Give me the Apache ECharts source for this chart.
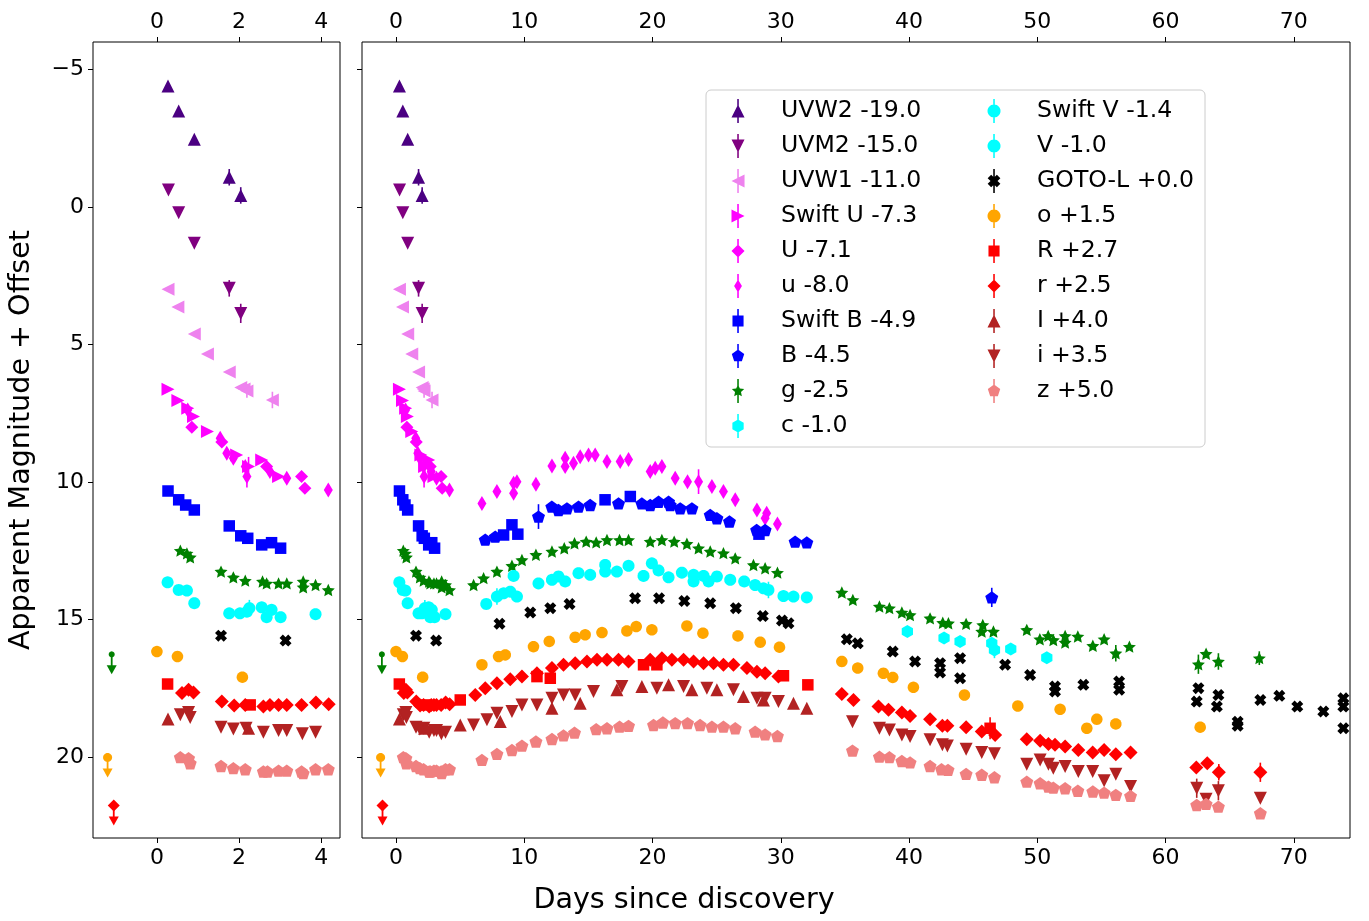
<!DOCTYPE html>
<html><head><meta charset="utf-8">
<script src="https://cdn.jsdelivr.net/npm/echarts@6/dist/echarts.min.js"></script>
<style>html,body{margin:0;padding:0;background:#fff}#c{width:1369px;height:921px}</style>
</head><body><div id="c"></div><script>
// ---------- DATA: [days, magnitude + offset, (error)] ----------
const uvw2 = [[0.27,-4.4],[0.53,-3.49],[0.91,-2.46],[1.76,-1.08,0.3],[2.04,-0.42,0.3]];
const uvm2 = [[0.28,-0.62],[0.53,0.21],[0.91,1.32],[1.76,2.96,0.3],[2.04,3.87,0.35]];
const uvw1 = [[0.27,2.99],[0.51,3.64],[0.91,4.62],[1.23,5.35],[1.76,6.0],[2.04,6.57],[2.12,6.62],[2.19,6.69,0.25],[2.81,7.02,0.3]];
const swiftU = [[0.27,6.63],[0.51,7.04],[0.75,7.32],[0.89,7.62],[1.23,8.17],[1.94,9.02],[2.23,9.44,0.35],[2.55,9.2],[2.96,9.8]];
const bigU = [[0.85,8.01],[1.58,8.55],[2.67,9.44],[3.52,9.8],[3.6,10.23]];
const smallU = [[0.75,7.38],[1.54,8.41],[1.7,8.96],[1.86,9.14],[2.15,9.44],[2.19,9.8,0.4],[2.75,9.62],[3.16,9.87],[4.17,10.29],
  [6.7,10.78],[7.87,10.35],[9.17,10.05],[9.17,10.41],[9.43,9.99],[10.91,10.08],[12.16,9.42],[13.19,9.14],[13.19,9.44],[13.84,9.32],
  [14.36,9.08],[15.01,9.02],[15.53,9.02],[16.45,9.26],[17.48,9.26],[18.13,9.18],[19.82,9.62],[20.21,9.5],[20.73,9.44],[21.77,9.87],
  [22.73,9.99],[23.59,9.99,0.45],[24.63,10.17],[25.53,10.35],[26.45,10.65],[28.14,11.02],[28.78,11.32],[28.9,11.14],[29.74,11.53]];
const swiftB = [[0.27,10.33],[0.53,10.65],[0.7,10.84],[0.91,11.02],[1.76,11.6],[2.04,11.96],[2.21,12.05],[2.55,12.29],[2.79,12.21],[3.01,12.41],
  [8.39,11.93],[9.04,11.56],[9.5,11.9],[16.3,10.65],[18.27,10.53],[28.3,11.9]];
const bandB = [[6.96,12.1],[7.74,11.99],[11.11,11.26,0.45],[12.15,10.9],[12.67,11.02],[13.33,10.96],[14.23,10.9],[15.14,10.84],[17.35,10.78],
  [19.17,10.78],[19.82,10.84],[20.47,10.72],[21.25,10.72],[21.38,10.84],[22.16,10.96],[23.07,10.96],[24.5,11.2],[25.02,11.32],[26.0,11.44],
  [28.12,11.75],[28.78,11.75],[31.12,12.17],[32.03,12.2],[46.45,14.2,0.35]];
const bandG = [[0.57,12.5],[0.73,12.6],[0.81,12.74],[1.56,13.26],[1.86,13.47],[2.15,13.59],[2.57,13.62],[2.67,13.69],[2.96,13.69],[3.16,13.69],
  [3.56,13.62],[3.56,13.83],[3.86,13.75],[4.17,13.93],
  [6.05,13.75],[6.83,13.5],[7.87,13.26],[9.04,13.05],[9.82,12.84],[10.91,12.65],[12.16,12.53],[13.12,12.41],[13.92,12.23],[14.83,12.17],
  [15.61,12.2],[16.45,12.11],[17.43,12.11],[18.13,12.11],[19.82,12.17],[20.73,12.11],[21.69,12.17],[22.68,12.25],[23.59,12.41],[24.5,12.53],
  [25.53,12.59],[26.45,12.78],[27.87,13.02],[28.78,13.14],[29.74,13.3],[34.76,14.02],[35.62,14.29],[37.69,14.53],[38.47,14.59],[39.44,14.75],
  [40.08,14.84],[41.64,14.96],[42.63,15.12],[43.07,15.14],[44.45,15.16],[45.75,15.2],[45.67,15.44],[46.58,15.44],[49.18,15.38],[50.2,15.72],
  [50.85,15.6],[51.25,15.75],[52.17,15.6],[52.17,15.84],[53.16,15.62],[54.33,15.96],[55.21,15.72],[56.12,16.23,0.3],[57.18,15.99],
  [62.56,16.63,0.35],[63.16,16.25],[64.12,16.53,0.3],[67.31,16.41,0.25]];
const bandC = [[39.87,15.44],[42.73,15.68],[43.98,15.8],[46.45,15.87],[46.66,16.11,0.3],[47.93,16.08],[50.74,16.39]];
const swiftV = [[0.26,13.65],[0.53,13.93],[0.73,13.95],[0.91,14.41],[1.76,14.78],[2.02,14.78],[2.19,14.72],[2.25,14.59,0.3],[2.55,14.56],
  [2.79,14.65],[2.67,14.92],[3.01,14.92],[3.86,14.81]];
const bandV = [[7.04,14.44],[7.87,14.17,0.3],[8.39,14.05],[8.91,13.99],[9.43,14.17],[9.17,13.42],[11.11,13.69],[12.16,13.56],[12.67,13.44],
  [13.19,13.62],[14.23,13.32],[15.14,13.38],[16.31,13.02],[16.31,13.26],[17.22,13.26],[18.13,13.05],[19.3,13.42],[19.95,12.96],[20.47,13.22],
  [21.25,13.47],[22.29,13.3],[23.2,13.38],[23.2,13.62],[23.98,13.42],[24.37,13.62],[25.02,13.44],[26.06,13.56],[27.15,13.62],[28.0,13.75],
  [28.65,13.87],[29.04,13.93,0.3],[30.21,14.15],[30.99,14.17],[32.03,14.2]];
const gotoL = [[1.56,15.59],[3.13,15.77],[8.07,15.16],[10.47,14.75],[12.03,14.59],[13.53,14.44],[18.64,14.23],[20.51,14.23],[22.48,14.33],
  [24.5,14.41],[26.5,14.59],[28.6,14.88],[30.09,15.04],[30.6,15.14],[35.15,15.72],[36.0,15.87],[38.73,16.17],[40.47,16.53],[42.42,16.59],
  [42.42,16.93],[43.98,16.41],[43.98,17.14],[47.49,16.65],[49.44,17.02],[51.38,17.44],[51.38,17.62],[53.59,17.38],[56.38,17.26],[56.38,17.56],
  [62.56,17.5],[62.43,17.99],[64.12,17.75],[64.0,18.17],[65.62,18.72],[65.62,18.87],[67.39,17.93],[68.87,17.78],[70.27,18.17],[72.3,18.35],
  [73.86,17.87],[73.86,18.17],[73.86,18.96]];
const bandO = [[0.0,16.17],[0.5,16.35],[2.08,17.1],[6.7,16.65],[8.0,16.35],[8.52,16.29],[10.72,15.99],[11.95,15.8],[13.97,15.65],[14.75,15.56],
  [16.06,15.48],[18.0,15.42],[18.73,15.26],[19.95,15.38],[22.68,15.24],[23.93,15.5],[26.66,15.6],[28.4,15.83],[29.9,16.01],[34.76,16.53],
  [36.0,16.77],[38.0,16.96],[38.73,17.11],[40.34,17.47],[44.32,17.75],[48.48,18.15],[51.78,18.27],[53.86,18.96],[54.64,18.63],[56.12,18.8],[62.7,18.92]];
const bigR = [[0.26,17.35],[2.27,18.11],[5.01,17.93],[10.99,17.08],[12.03,17.14],[19.3,16.65],[20.34,16.65],[30.21,17.05],[32.11,17.38],[46.32,18.96,0.4]];
const smallR = [[0.61,17.68],[0.77,17.56],[0.89,17.66],[1.58,17.99],[1.88,18.13],[2.15,18.11],[2.59,18.17],[2.75,18.11],[2.96,18.11],[3.16,18.11],
  [3.52,18.11],[3.87,18.02],[4.18,18.09],
  [6.18,17.75],[6.96,17.5],[7.87,17.32],[8.91,17.18],[9.82,17.08],[10.99,16.96],[12.16,16.77],[13.06,16.65],[13.97,16.59],[14.89,16.53],
  [15.67,16.47],[16.45,16.47],[17.35,16.47],[18.13,16.53],[19.82,16.47],[20.73,16.41],[21.51,16.47],[22.42,16.47],[23.2,16.53],[23.98,16.59],
  [24.76,16.59],[25.53,16.65],[26.31,16.65],[27.36,16.77],[28.14,16.9],[28.78,16.96],[29.82,17.08],[34.76,17.71],[35.67,17.93],[37.62,18.17],
  [38.4,18.29],[39.44,18.39],[40.08,18.51],[41.64,18.63],[42.6,18.87],[42.99,18.87],[44.45,18.92],[45.67,19.08],[46.71,19.2],[49.18,19.36],
  [50.22,19.41],[50.87,19.53],[51.38,19.56],[52.17,19.62],[53.2,19.75],[54.32,19.84],[55.21,19.75],[56.12,19.9],[57.27,19.84],[62.4,20.39],
  [63.25,20.23],[64.15,20.56,0.3],[67.39,20.56,0.35]];
const bigI = [[0.27,18.62],[2.23,18.96],[5.01,18.84],[8.13,18.71],[12.16,18.23],[14.36,18.05],[17.22,17.56],[19.17,17.44],[21.25,17.38],
  [23.07,17.56],[25.02,17.56],[27.09,17.8],[28.65,17.93],[30.99,18.05],[32.03,18.23]];
const smallI = [[0.57,18.47],[0.77,18.39],[0.81,18.57],[1.56,18.92],[1.86,18.99],[2.17,18.96],[2.59,19.1],[2.96,19.04],[3.16,19.04],[3.54,19.16],[3.86,19.1],
  [6.05,18.84],[7.09,18.65],[7.87,18.41],[9.04,18.35],[9.82,18.11],[10.99,18.11],[12.16,17.87],[13.06,17.75],[13.97,17.75],[15.4,17.62],
  [17.61,17.44],[20.34,17.5],[22.42,17.44],[24.24,17.5],[26.31,17.56],[28.14,17.87],[28.78,17.87],[29.82,17.99],[35.59,18.72],[37.69,18.96],
  [38.47,19.02],[39.44,19.2],[40.08,19.26],[41.64,19.38],[42.6,19.56],[42.99,19.6],[44.45,19.72],[45.67,19.84],[46.66,19.89],[49.18,20.27],
  [50.22,20.11],[50.87,20.27],[51.25,20.41],[52.17,20.35],[53.2,20.53],[54.32,20.53],[55.21,20.87],[56.12,20.63],[57.27,21.08],
  [62.43,21.14,0.35],[63.16,21.54],[64.12,21.23,0.35],[67.39,21.5]];
const bandZ = [[0.57,20.01],[0.77,20.05],[0.81,20.23],[1.56,20.33],[1.86,20.41],[2.15,20.45],[2.59,20.53],[2.69,20.53],[2.96,20.5],[3.16,20.5],
  [3.52,20.53],[3.56,20.59],[3.86,20.45],[4.17,20.45],
  [6.7,20.11],[7.87,19.89],[9.04,19.75],[9.82,19.59],[10.91,19.44],[12.16,19.35],[13.06,19.22],[13.92,19.12],[15.61,18.99],[16.45,18.96],
  [17.43,18.9],[18.13,18.87],[20.08,18.84],[20.81,18.75],[21.77,18.77],[22.73,18.77],[23.71,18.84],[24.63,18.9],[25.53,18.9],[26.45,18.96],
  [28.0,19.08],[28.78,19.18],[29.74,19.24],[35.59,19.77],[37.69,19.99],[38.47,20.01],[39.44,20.15],[40.08,20.2],[41.64,20.33],[42.53,20.45],
  [43.04,20.47],[44.45,20.62],[45.67,20.65],[46.66,20.74],[49.18,20.9],[50.22,20.96],[50.87,21.08],[51.25,21.12],[52.17,21.14],[53.16,21.23],
  [54.33,21.26],[55.21,21.3],[56.12,21.38],[57.27,21.42],[62.43,21.75],[63.16,21.71],[64.12,21.81],[67.39,22.05]];
// upper limits (pre-discovery non-detections)
const gLimit = [[-1.1,16.27]];
const oLimit = [[-1.2,20.02]];
const rLimit = [[-1.05,21.77]];
const xTicksLeft = [0,2,4];
const xTicksRight = [0,10,20,30,40,50,60,70];
const yTicks = [-5,0,5,10,15,20];

// ---------- STYLE ----------
const FONT = 'DejaVu Sans';
function circ(n){return Array.from({length:n},(_,k)=>{const t=-Math.PI/2+k*2*Math.PI/n;return [Math.cos(t),Math.sin(t)];});}
function regPoly(n,r){return Array.from({length:n},(_,k)=>{const t=-Math.PI/2+k*2*Math.PI/n;return [r*Math.cos(t),r*Math.sin(t)];});}
function starPts(){return Array.from({length:10},(_,k)=>{const t=-Math.PI/2+k*Math.PI/5;const r=k%2?0.48:1;return [r*Math.cos(t),r*Math.sin(t)];});}
function xPts(){const w=0.38;const p=[[-w,-1],[w,-1],[w,-w],[1,-w],[1,w],[w,w],[w,1],[-w,1],[-w,w],[-1,w],[-1,-w],[-w,-w]];
  const c=Math.SQRT1_2;return p.map(([x,y])=>[(x-y)*c,(x+y)*c]);}
const SHAPES = {
  triUp:[[0,-1],[1,1],[-1,1]], triDown:[[-1,-1],[1,-1],[0,1]], triLeft:[[-1,0],[1,-1],[1,1]], triRight:[[1,0],[-1,1],[-1,-1]],
  square:[[-0.85,-0.85],[0.85,-0.85],[0.85,0.85],[-0.85,0.85]], diamond:[[0,-1],[1,0],[0,1],[-1,0]], thin:[[0,-1],[0.6,0],[0,1],[-0.6,0]],
  circle:circ(28), pent:regPoly(5,1), hex:regPoly(6,1), star:starPts(), xx:xPts()
};
function polyStr(pts,s,cx,cy){return 'M'+pts.map(p=>(cx+p[0]*s).toFixed(2)+' '+(cy+p[1]*s).toFixed(2)).join(' L')+' Z';}
function symPath(shape){return 'path://'+polyStr(SHAPES[shape],50,50,50);}
function iconPath(shape){return 'path://'+polyStr(SHAPES[shape],50,50,92)+' '+polyStr([[-0.12,-1.84],[0.12,-1.84],[0.12,1.84],[-0.12,1.84]],50,50,92);}

const bands = [
  {name:'UVW2 -19.0', data:uvw2, color:'#4b0082', shape:'triUp', size:13},
  {name:'UVM2 -15.0', data:uvm2, color:'#800080', shape:'triDown', size:13},
  {name:'UVW1 -11.0', data:uvw1, color:'#ee82ee', shape:'triLeft', size:13},
  {name:'Swift U -7.3', data:swiftU, color:'#ff00ff', shape:'triRight', size:13},
  {name:'U -7.1', data:bigU, color:'#ff00ff', shape:'diamond', size:13},
  {name:'u -8.0', data:smallU, color:'#ff00ff', shape:'thin', size:15},
  {name:'Swift B -4.9', data:swiftB, color:'#0000ff', shape:'square', size:11.5},
  {name:'B -4.5', data:bandB, color:'#0000ff', shape:'pent', size:13},
  {name:'g -2.5', data:bandG, color:'#008000', shape:'star', size:13},
  {name:'c -1.0', data:bandC, color:'#00ffff', shape:'hex', size:13},
  {name:'Swift V -1.4', data:swiftV, color:'#00ffff', shape:'circle', size:12},
  {name:'V -1.0', data:bandV, color:'#00ffff', shape:'circle', size:12},
  {name:'GOTO-L +0.0', data:gotoL, color:'#000000', shape:'xx', size:12},
  {name:'o +1.5', data:bandO, color:'#ffa500', shape:'circle', size:11.5},
  {name:'R +2.7', data:bigR, color:'#ff0000', shape:'square', size:11.5},
  {name:'r +2.5', data:smallR, color:'#ff0000', shape:'diamond', size:14},
  {name:'I +4.0', data:bigI, color:'#b22222', shape:'triUp', size:13},
  {name:'i +3.5', data:smallI, color:'#b22222', shape:'triDown', size:13},
  {name:'z +5.0', data:bandZ, color:'#f08080', shape:'pent', size:13}
];
const limits = [
  {name:'g -2.5', data:gLimit, color:'#008000', shape:'circle', size:6},
  {name:'o +1.5', data:oLimit, color:'#ffa500', shape:'circle', size:9},
  {name:'r +2.5', data:rLimit, color:'#ff0000', shape:'diamond', size:12}
];

const ranges = [[-1.555,4.455],[-2.65,74.38]];
const Y_MIN = -6, Y_MAX = 22.95;

const series = [];
[0,1].forEach(gi=>{
  const [xmin,xmax] = ranges[gi];
  bands.forEach(b=>{
    const errs = b.data.filter(d=>d.length>2);
    if (errs.length) {
      series.push({type:'custom', name:b.name, xAxisIndex:gi*2, yAxisIndex:gi, data:errs, silent:true, z:2,
        itemStyle:{color:b.color},
        renderItem:(params,api)=>{
          const x=api.value(0), y=api.value(1), e=api.value(2);
          if (x<xmin||x>xmax) return null;
          const p1=api.coord([x,y-e]), p2=api.coord([x,y+e]);
          return {type:'line', shape:{x1:p1[0],y1:p1[1],x2:p2[0],y2:p2[1]}, style:{stroke:b.color,lineWidth:1.6}};
        }});
    }
    series.push({type:'scatter', name:b.name, xAxisIndex:gi*2, yAxisIndex:gi, data:b.data.map(d=>[d[0],d[1]]),
      symbol:symPath(b.shape), symbolSize:b.size, symbolKeepAspect:true, clip:true, z:2,
      itemStyle:{color:b.color, opacity:1}, emphasis:{disabled:true}});
  });
  limits.forEach(l=>{
    series.push({type:'custom', name:l.name, xAxisIndex:gi*2, yAxisIndex:gi, data:l.data, silent:true, z:2,
      itemStyle:{color:l.color},
      renderItem:(params,api)=>{
        const p=api.coord([api.value(0),api.value(1)]);
        const h=l.size;
        return {type:'group', children:[
          {type:'line', shape:{x1:p[0],y1:p[1],x2:p[0],y2:p[1]+13}, style:{stroke:l.color,lineWidth:1.8}},
          {type:'polygon', shape:{points:[[p[0]-5,p[1]+11],[p[0]+5,p[1]+11],[p[0],p[1]+20]]}, style:{fill:l.color}},
          {type:'path', shape:{pathData:polyStr(SHAPES[l.shape],50,50,50), x:p[0]-h/2, y:p[1]-h/2, width:h, height:h}, style:{fill:l.color}}
        ]};
      }});
  });
});

const tickStyle = {show:true, length:5, inside:false, lineStyle:{color:'#000', width:1}};
const labStyle = {fontFamily:FONT, fontSize:22, color:'#000', margin:9};
function xAx(gi, pos, ticks){
  return {type:'value', gridIndex:gi, position:pos, min:ranges[gi][0], max:ranges[gi][1],
    axisLine:{show:false, onZero:false}, splitLine:{show:false},
    axisTick:Object.assign({customValues:ticks}, tickStyle),
    axisLabel:Object.assign({customValues:ticks, formatter:v=>String(v)}, labStyle)};
}
function yAx(gi, showLab){
  return {type:'value', gridIndex:gi, inverse:true, min:Y_MIN, max:Y_MAX, position:'left',
    axisLine:{show:false, onZero:false}, splitLine:{show:false},
    axisTick:Object.assign({customValues:yTicks}, tickStyle),
    axisLabel:Object.assign({show:showLab, customValues:yTicks, formatter:v=>v<0?'\u2212'+Math.abs(v):String(v)}, labStyle),
    name: showLab ? 'Apparent Magnitude + Offset' : '', nameLocation:'middle', nameRotate:90, nameGap:57,
    nameTextStyle:{fontFamily:FONT, fontSize:28.6, color:'#000'}};
}

const legendText = {fontFamily:FONT, fontSize:23.6, color:'#000', lineHeight:24};
function legendItems(list){return list.map(b=>({name:b.name, icon:iconPath(b.shape), itemStyle:{color:b.color}}));}

const option = {
  backgroundColor:'#fff',
  animation:false,
  grid:[
    {left:93, right:1029, top:42, bottom:83, show:true, borderColor:'#000', borderWidth:1, backgroundColor:'transparent'},
    {left:362, right:19, top:42, bottom:83, show:true, borderColor:'#000', borderWidth:1, backgroundColor:'transparent'}
  ],
  xAxis:[xAx(0,'bottom',xTicksLeft), xAx(0,'top',xTicksLeft), xAx(1,'bottom',xTicksRight), xAx(1,'top',xTicksRight)],
  yAxis:[yAx(0,true), yAx(1,false)],
  legend:[
    {left:731.5, top:99, orient:'vertical', padding:0, itemWidth:76, itemHeight:24, itemGap:11, textStyle:legendText,
      selectedMode:false, data:legendItems(bands.slice(0,10)), z:10},
    {left:987.5, top:99, orient:'vertical', padding:0, itemWidth:76, itemHeight:24, itemGap:11, textStyle:legendText,
      selectedMode:false, data:legendItems(bands.slice(10)), z:10}
  ],
  graphic:[
    {type:'rect', shape:{x:706, y:90, width:499, height:357, r:5}, style:{fill:'rgba(255,255,255,0.8)', stroke:'#cccccc', lineWidth:1}, z:5, silent:true},
    {type:'text', x:684, y:901, style:{text:'Days since discovery', font:'28.6px "DejaVu Sans"', fill:'#000', textAlign:'center', textVerticalAlign:'middle'}, z:5}
  ],
  series
};
const chart = echarts.init(document.getElementById('c'), null, {renderer:'canvas'});
chart.setOption(option);
</script></body></html>
